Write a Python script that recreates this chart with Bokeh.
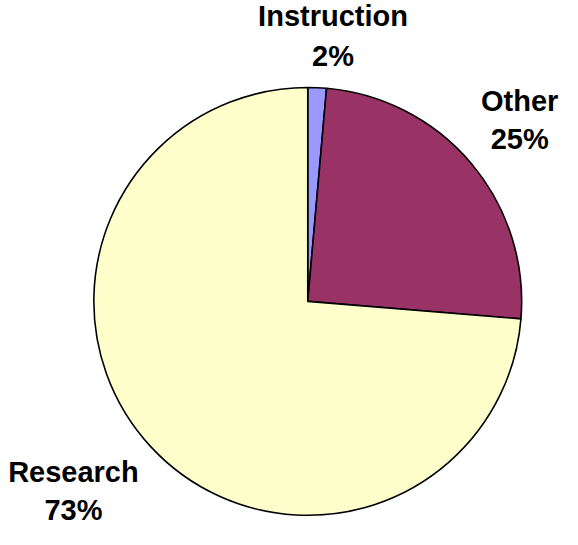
import math
from bokeh.plotting import figure
from bokeh.models import Range1d, ColumnDataSource
from bokeh.core.properties import value
from bokeh.embed import file_html
from bokeh.resources import INLINE

categories = ["Instruction", "Other", "Research"]
values = [1.4, 24.9, 73.7]
pct_labels = ["2%", "25%", "73%"]
colors = ["#9999FF", "#993366", "#FFFFCC"]

# design space: reference pixels (578 x 545), drawn in a figure that fits the window
W, H = 578, 545
p = figure(width=562, height=529, output_backend="svg", toolbar_location=None,
           x_range=Range1d(0, W), y_range=Range1d(0, H),
           min_border=0)
p.axis.visible = False
p.grid.visible = False
p.outline_line_color = None

cx, cy, r = 316, H - 310, 220
total = sum(values)
starts, ends = [], []
a = math.pi / 2
for v in values:
    starts.append(a)
    a -= v / total * 2 * math.pi
    ends.append(a)

src = ColumnDataSource(dict(start=starts, end=ends, color=colors, cat=categories))
p.wedge(x=cx, y=cy, radius=r, start_angle="start", end_angle="end", direction="clock",
        fill_color="color", line_color="black", line_width=1.6, source=src)

# label layout (reference pixel coordinates: centre x, anchor of name line, anchor of pct line)
label_x = [342, 534, 75]
name_base = [16, 104, 486]
pct_base = [57, 143, 525]

lsrc = ColumnDataSource(dict(x=label_x, yn=[H - b for b in name_base], yp=[H - b for b in pct_base],
                             name=categories, pct=pct_labels))
for ycol, tcol in (("yn", "name"), ("yp", "pct")):
    p.text(x="x", y=ycol, text=tcol, source=lsrc, text_align="center", text_baseline="alphabetic",
           text_font=value("Liberation Sans"), text_font_style="bold", text_font_size="29px",
           text_color="black")

open("out.html", "w").write(file_html(p, INLINE))
